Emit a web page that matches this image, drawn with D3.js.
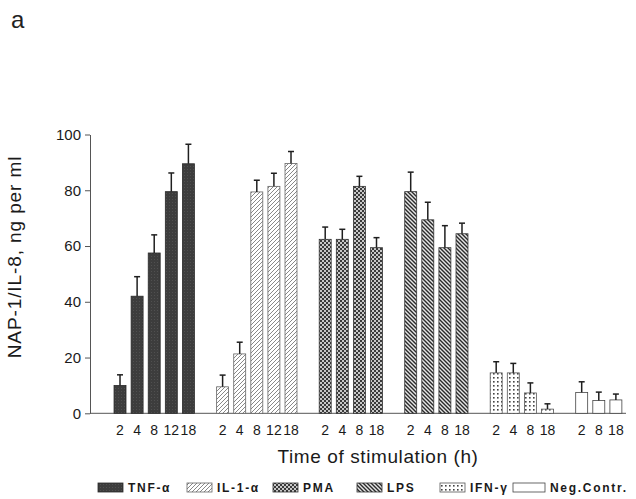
<!DOCTYPE html>
<html>
<head>
<meta charset="utf-8">
<script src="https://cdn.jsdelivr.net/npm/d3@7"></script>
<style>
  html, body { margin: 0; padding: 0; background: #fff; }
  svg { display: block; font-family: "Liberation Sans", Arial, Helvetica, sans-serif; }
</style>
</head>
<body>
<svg id="chart" width="636" height="499"></svg>
<script>
// ---- data ----
const groups = ["TNF-α", "IL-1-α", "PMA", "LPS", "IFN-γ", "Neg.Contr."];
const groupKeys = ["tnf", "il1", "pma", "lps", "ifn", "neg"];
const times = [
  ["2", "4", "8", "12", "18"],
  ["2", "4", "8", "12", "18"],
  ["2", "4", "8", "18"],
  ["2", "4", "8", "18"],
  ["2", "4", "8", "18"],
  ["2", "8", "18"]
];
const means = [
  [10, 42, 57.5, 79.5, 89.5],
  [9.5, 21.3, 79.4, 81.4, 89.6],
  [62.4, 62.4, 81.4, 59.4],
  [79.5, 69.4, 59.4, 64.4],
  [14.5, 14.5, 7.3, 1.5],
  [7.5, 4.6, 4.8]
];
const errors = [
  [3.8, 7, 6.5, 6.7, 7],
  [4.2, 4.2, 4.2, 4.7, 4.3],
  [4.4, 3.6, 3.6, 3.6],
  [7, 6.3, 7.9, 3.8],
  [4, 3.4, 3.6, 1.9],
  [3.8, 3, 2.1]
];
const yTicks = [0, 20, 40, 60, 80, 100];
const yLabel = "NAP-1/IL-8, ng per ml";
const xLabel = "Time of stimulation (h)";
const panelLabel = "a";

// ---- build flat bar list with spacer slots between groups ----
const bars = [];
const slots = [];
groups.forEach((g, gi) => {
  if (gi > 0) slots.push("gap" + gi);
  times[gi].forEach((t, ti) => {
    const key = gi + "-" + ti;
    slots.push(key);
    bars.push({ key, group: gi, time: t, mean: means[gi][ti], err: errors[gi][ti] });
  });
});

const svg = d3.select("#chart");

const x = d3.scaleBand().domain(slots).range([108.9, 627]).paddingInner(0.3).paddingOuter(0.3);
const y = d3.scaleLinear().domain([0, 100]).range([413.3, 134.5]);

// ---- patterns ----
const defs = svg.append("defs");
function pat(id, w, h) {
  return defs.append("pattern").attr("id", id).attr("patternUnits", "userSpaceOnUse")
    .attr("width", w).attr("height", h);
}
{
  const p = pat("p-tnf", 3, 3);
  p.append("rect").attr("width", 3).attr("height", 3).attr("fill", "#3d3d3d");
  p.append("rect").attr("x", 1).attr("y", 1).attr("width", 1).attr("height", 1).attr("fill", "#505050");
}
{
  const p = pat("p-il1", 4, 4);
  p.append("rect").attr("width", 4).attr("height", 4).attr("fill", "#fff");
  p.append("path").attr("d", "M-1,1 L1,-1 M0,4 L4,0 M3,5 L5,3")
    .attr("stroke", "#7a7a7a").attr("stroke-width", 0.9);
}
{
  const p = pat("p-pma", 4, 4);
  p.append("rect").attr("width", 4).attr("height", 4).attr("fill", "#c8c8c8");
  p.append("rect").attr("x", 0).attr("y", 0).attr("width", 2).attr("height", 2).attr("fill", "#3a3a3a");
  p.append("rect").attr("x", 2).attr("y", 2).attr("width", 2).attr("height", 2).attr("fill", "#3a3a3a");
}
{
  const p = pat("p-lps", 4, 4);
  p.append("rect").attr("width", 4).attr("height", 4).attr("fill", "#e6e6e6");
  p.append("path").attr("d", "M-1,3 L1,5 M0,0 L4,4 M3,-1 L5,1")
    .attr("stroke", "#2a2a2a").attr("stroke-width", 1.4);
}
{
  const p = pat("p-ifn", 4, 4);
  p.append("rect").attr("width", 4).attr("height", 4).attr("fill", "#fff");
  p.append("rect").attr("x", 1).attr("y", 1).attr("width", 1.6).attr("height", 1.6).attr("fill", "#444");
}
const fills = { tnf: "url(#p-tnf)", il1: "url(#p-il1)", pma: "url(#p-pma)", lps: "url(#p-lps)", ifn: "url(#p-ifn)", neg: "#fff" };
const strokes = { tnf: "#2a2a2a", il1: "#666", pma: "#333", lps: "#333", ifn: "#555", neg: "#444" };

// ---- panel label ----
svg.append("text").attr("x", 11).attr("y", 28).attr("font-size", 24).attr("fill", "#222").text(panelLabel);

// ---- y axis ----
const yAxis = svg.append("g").attr("transform", "translate(90,0)")
  .call(d3.axisLeft(y).tickValues(yTicks).tickSize(5).tickPadding(4).tickSizeOuter(0));
yAxis.select(".domain").attr("stroke", "#555").attr("stroke-width", 1);
yAxis.selectAll(".tick line").attr("stroke", "#555");
yAxis.selectAll(".tick text").attr("font-size", 15).attr("fill", "#1a1a1a")
  .attr("font-family", "'Liberation Sans', Arial, sans-serif");

// ---- baseline ----
svg.append("line").attr("x1", 90).attr("x2", 626).attr("y1", y(0)).attr("y2", y(0))
  .attr("stroke", "#555").attr("stroke-width", 1);

// ---- bars ----
svg.append("g").selectAll("rect").data(bars).join("rect")
  .attr("x", d => x(d.key)).attr("width", x.bandwidth())
  .attr("y", d => y(d.mean)).attr("height", d => y(0) - y(d.mean))
  .attr("fill", d => fills[groupKeys[d.group]])
  .attr("stroke", d => strokes[groupKeys[d.group]]).attr("stroke-width", 0.8);

// ---- error bars ----
const eg = svg.append("g").attr("stroke", "#1f1f1f").attr("stroke-width", 1.5);
eg.selectAll("line.v").data(bars).join("line").attr("class", "v")
  .attr("x1", d => x(d.key) + x.bandwidth() / 2).attr("x2", d => x(d.key) + x.bandwidth() / 2)
  .attr("y1", d => y(d.mean)).attr("y2", d => y(d.mean + d.err));
eg.selectAll("line.c").data(bars).join("line").attr("class", "c")
  .attr("x1", d => x(d.key) + x.bandwidth() / 2 - 3).attr("x2", d => x(d.key) + x.bandwidth() / 2 + 3)
  .attr("y1", d => y(d.mean + d.err)).attr("y2", d => y(d.mean + d.err));

// ---- time labels ----
svg.append("g").selectAll("text").data(bars).join("text")
  .attr("x", d => x(d.key) + x.bandwidth() / 2).attr("y", 435)
  .attr("text-anchor", "middle").attr("font-size", 14).attr("fill", "#1a1a1a")
  .text(d => d.time);

// ---- axis titles ----
svg.append("text").attr("x", 378).attr("y", 463).attr("text-anchor", "middle")
  .attr("font-size", 19).attr("letter-spacing", 0.6).attr("fill", "#1a1a1a").text(xLabel);
svg.append("text").attr("transform", "translate(21,257) rotate(-90)").attr("text-anchor", "middle")
  .attr("font-size", 19).attr("letter-spacing", 0.9).attr("fill", "#1a1a1a").text(yLabel);

// ---- legend ----
const legendX = [98, 187, 273, 357, 440, 513];
const legendW = [25, 25, 25, 25, 25, 32];
const lg = svg.append("g");
groups.forEach((g, gi) => {
  lg.append("rect").attr("x", legendX[gi]).attr("y", 483).attr("width", legendW[gi]).attr("height", 9)
    .attr("fill", fills[groupKeys[gi]]).attr("stroke", strokes[groupKeys[gi]]).attr("stroke-width", 0.8);
  lg.append("text").attr("x", legendX[gi] + legendW[gi] + 5).attr("y", 492)
    .attr("font-size", 12).attr("font-weight", "bold").attr("letter-spacing", 1.7)
    .attr("fill", "#1a1a1a").text(g);
});
</script>
</body>
</html>
